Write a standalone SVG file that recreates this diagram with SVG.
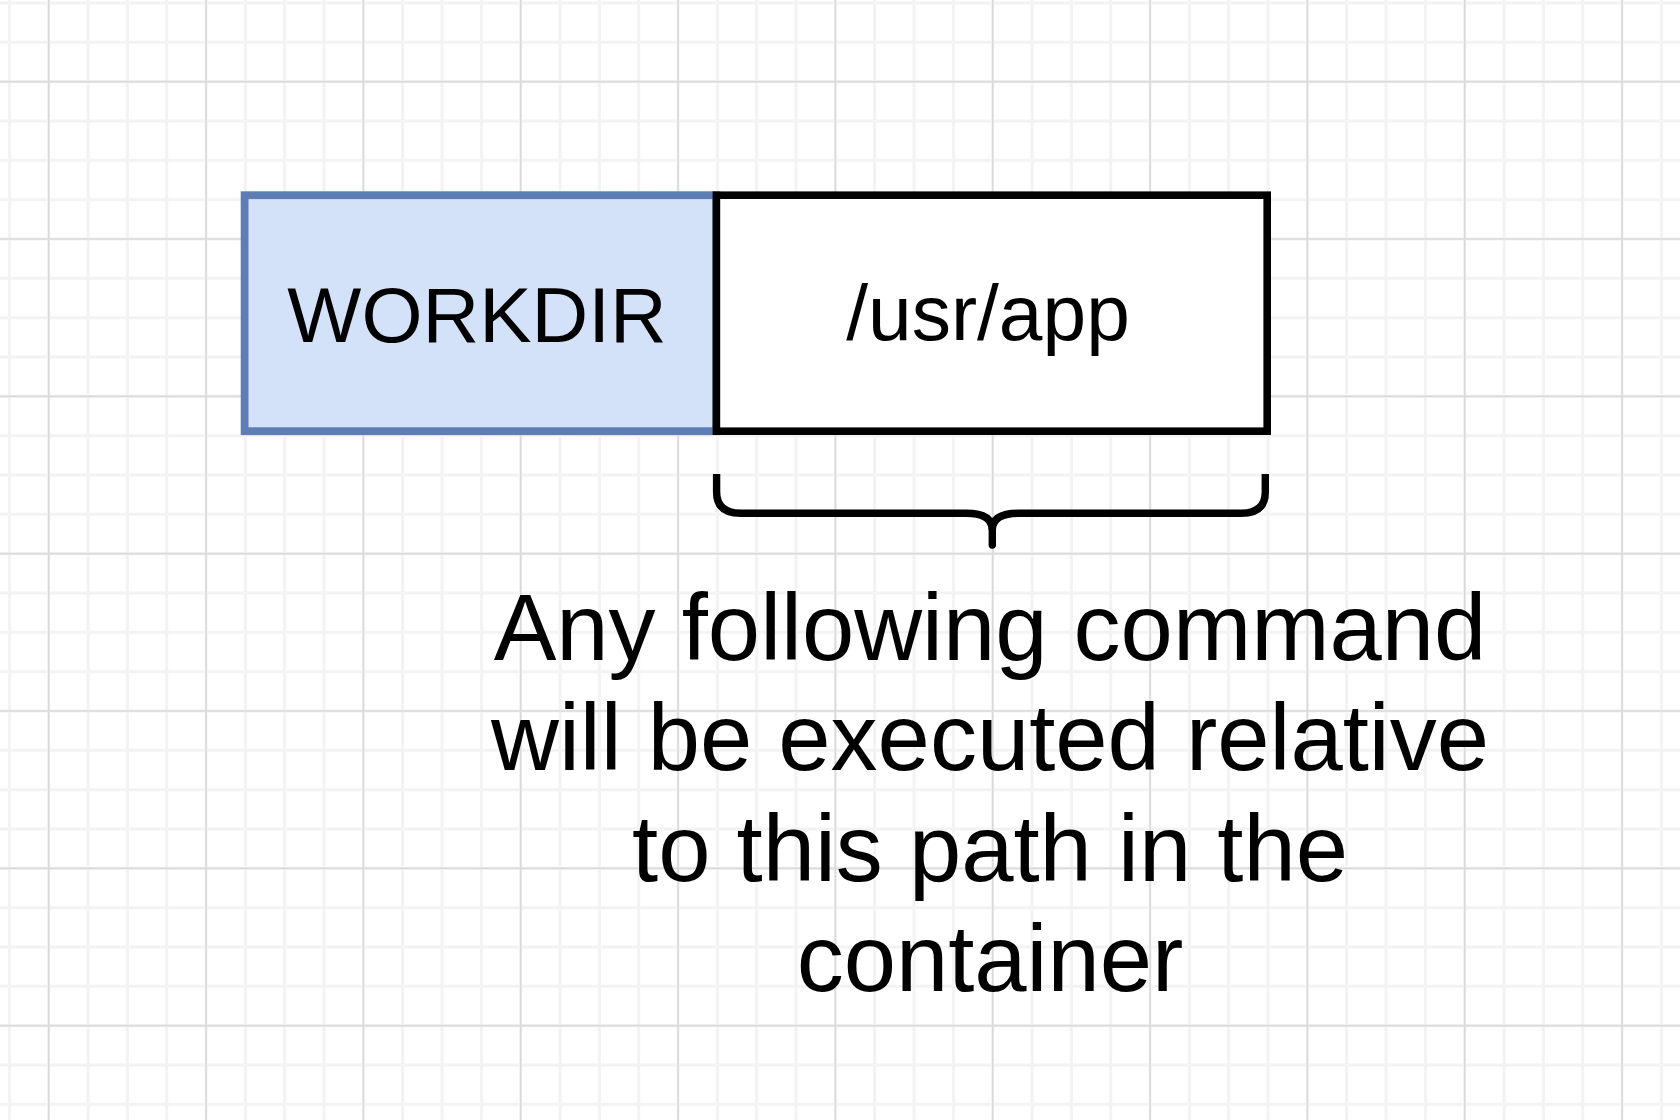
<svg xmlns="http://www.w3.org/2000/svg" width="1680" height="1120" viewBox="0 0 1680 1120">
<style>
.minor{stroke:#f3f3f3;stroke-width:3;fill:none}
.major{stroke:#dadada;stroke-width:1.6;fill:none}
.lbl{font-family:"Liberation Sans",Arial,Helvetica,sans-serif;fill:#000;text-anchor:middle}
</style>
<rect x="0" y="0" width="1680" height="1120" fill="#ffffff"/>
<g id="grid">
<path class="minor" d="M9.4 0V1120M48.73 0V1120M88.07 0V1120M127.4 0V1120M166.73 0V1120M206.07 0V1120M245.4 0V1120M284.73 0V1120M324.07 0V1120M363.4 0V1120M402.73 0V1120M442.07 0V1120M481.4 0V1120M520.73 0V1120M560.07 0V1120M599.4 0V1120M638.73 0V1120M678.07 0V1120M717.4 0V1120M756.73 0V1120M796.07 0V1120M835.4 0V1120M874.73 0V1120M914.07 0V1120M953.4 0V1120M992.73 0V1120M1032.07 0V1120M1071.4 0V1120M1110.73 0V1120M1150.07 0V1120M1189.4 0V1120M1228.73 0V1120M1268.07 0V1120M1307.4 0V1120M1346.73 0V1120M1386.07 0V1120M1425.4 0V1120M1464.73 0V1120M1504.07 0V1120M1543.4 0V1120M1582.73 0V1120M1622.07 0V1120M1661.4 0V1120"/>
<path class="minor" d="M0 3H1680M0 42.33H1680M0 81.67H1680M0 121H1680M0 160.33H1680M0 199.67H1680M0 239H1680M0 278.33H1680M0 317.67H1680M0 357H1680M0 396.33H1680M0 435.67H1680M0 475H1680M0 514.33H1680M0 553.67H1680M0 593H1680M0 632.33H1680M0 671.67H1680M0 711H1680M0 750.33H1680M0 789.67H1680M0 829H1680M0 868.33H1680M0 907.67H1680M0 947H1680M0 986.33H1680M0 1025.67H1680M0 1065H1680M0 1104.33H1680"/>
<path class="major" d="M48.73 0V1120M206.07 0V1120M363.4 0V1120M520.73 0V1120M678.07 0V1120M835.4 0V1120M992.73 0V1120M1150.07 0V1120M1307.4 0V1120M1464.73 0V1120M1622.07 0V1120"/>
<path class="major" d="M0 81.67H1680M0 239H1680M0 396.33H1680M0 553.67H1680M0 711H1680M0 868.33H1680M0 1025.67H1680"/>
</g>
<g id="workdir">
<rect x="244.6" y="195.2" width="471.8" height="236" fill="#d3e2f9" stroke="#5d7db4" stroke-width="7.8"/>
<text class="lbl" x="477" y="341.7" font-size="78.5">WORKDIR</text>
</g>
<g id="path-box">
<rect x="716.4" y="195.2" width="550.8" height="236" fill="#ffffff" stroke="#000000" stroke-width="7.6"/>
<text class="lbl" x="988" y="340" font-size="78.5">/usr/app</text>
</g>
<g id="brace">
<path d="M716.6 474V492Q716.6 513.3 741 513.3H966Q992.3 513.3 992.3 530M992.3 530Q992.3 513.3 1018.6 513.3H1241Q1265.3 513.3 1265.3 492V474" fill="none" stroke="#000000" stroke-width="7.4"/>
<path d="M992.3 526V545" fill="none" stroke="#000000" stroke-width="7.4" stroke-linecap="round"/>
</g>
<g id="note">
<text class="lbl" font-size="94"><tspan x="990" y="659.5">Any following command</tspan><tspan x="990" y="770">will be executed relative</tspan><tspan x="990" y="880.5">to this path in the</tspan><tspan x="990" y="991">container</tspan></text>
</g>
</svg>
